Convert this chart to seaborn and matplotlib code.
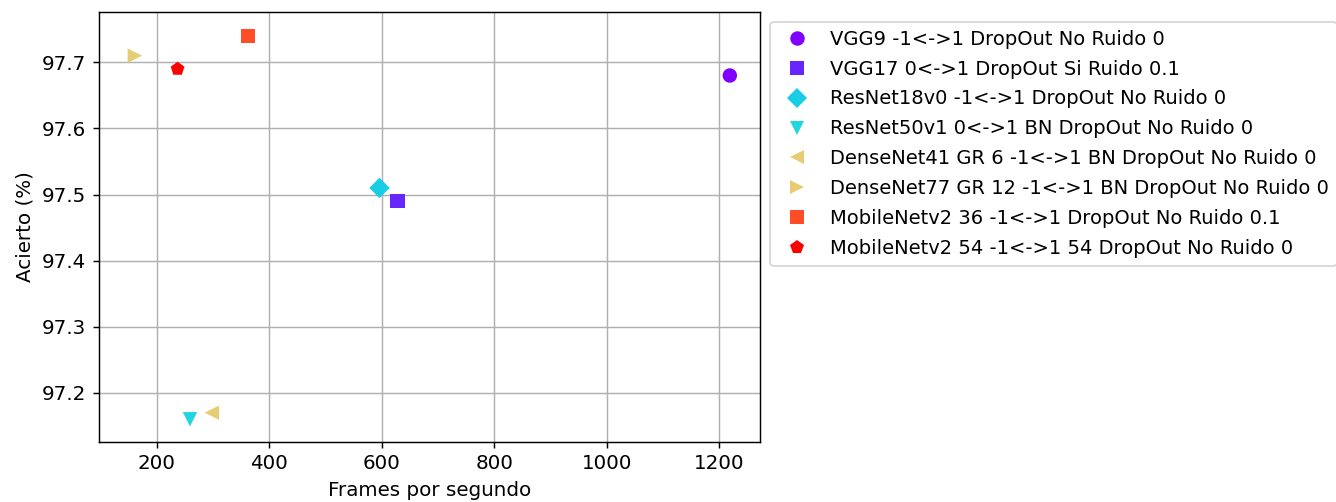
import numpy as np
import pandas as pd
import matplotlib
matplotlib.use("Agg")
import matplotlib.pyplot as plt
import seaborn as sns

# Modelos evaluados: FPS vs acierto
modelos = [
    'VGG9 -1<->1 DropOut No Ruido 0',
    'VGG17 0<->1 DropOut Si Ruido 0.1',
    'ResNet18v0 -1<->1 DropOut No Ruido 0',
    'ResNet50v1 0<->1 BN DropOut No Ruido 0',
    'DenseNet41 GR 6 -1<->1 BN DropOut No Ruido 0',
    'DenseNet77 GR 12 -1<->1 BN DropOut No Ruido 0',
    'MobileNetv2 36 -1<->1 DropOut No Ruido 0.1',
    'MobileNetv2 54 -1<->1 54 DropOut No Ruido 0',
]
fps = [1219, 628, 596, 259, 298, 161, 362, 237]
acierto = [97.68, 97.49, 97.51, 97.16, 97.17, 97.71, 97.74, 97.69]

marcadores = ['o', 's', 'D', 'v', '<', '>', 's', 'p']
pos_color = [0.0, 0.05, 0.3, 0.32, 0.7, 0.7, 0.9, 1.0]

df = pd.DataFrame({'modelo': modelos, 'fps': fps, 'acierto': acierto})

plt.rcParams['font.size'] = 11

cmap = plt.get_cmap('rainbow')
palette = {m: cmap(p) for m, p in zip(modelos, pos_color)}
markers = dict(zip(modelos, marcadores))

dpi = 130
fig, ax = plt.subplots(figsize=(1336 / dpi, 502 / dpi), dpi=dpi)
fig.subplots_adjust(left=0.074, right=0.569, top=0.976, bottom=0.12)

sns.scatterplot(data=df, x='fps', y='acierto', hue='modelo', style='modelo',
                hue_order=modelos, style_order=modelos, palette=palette,
                markers=markers, s=64, linewidth=0, ax=ax)

ax.set_xlim(97, 1273)
ax.set_ylim(97.126, 97.776)
ax.grid(True, color='#b0b0b0', linewidth=0.8)
ax.set_axisbelow(True)
ax.set_xlabel('Frames por segundo')
ax.set_ylabel('Acierto (%)')

sns.move_legend(ax, 'upper left', bbox_to_anchor=(1.0, 1), title=None,
                frameon=True, fontsize=10.8, labelspacing=0.56,
                handletextpad=0.7)

fig.savefig('out.png', dpi=dpi)
